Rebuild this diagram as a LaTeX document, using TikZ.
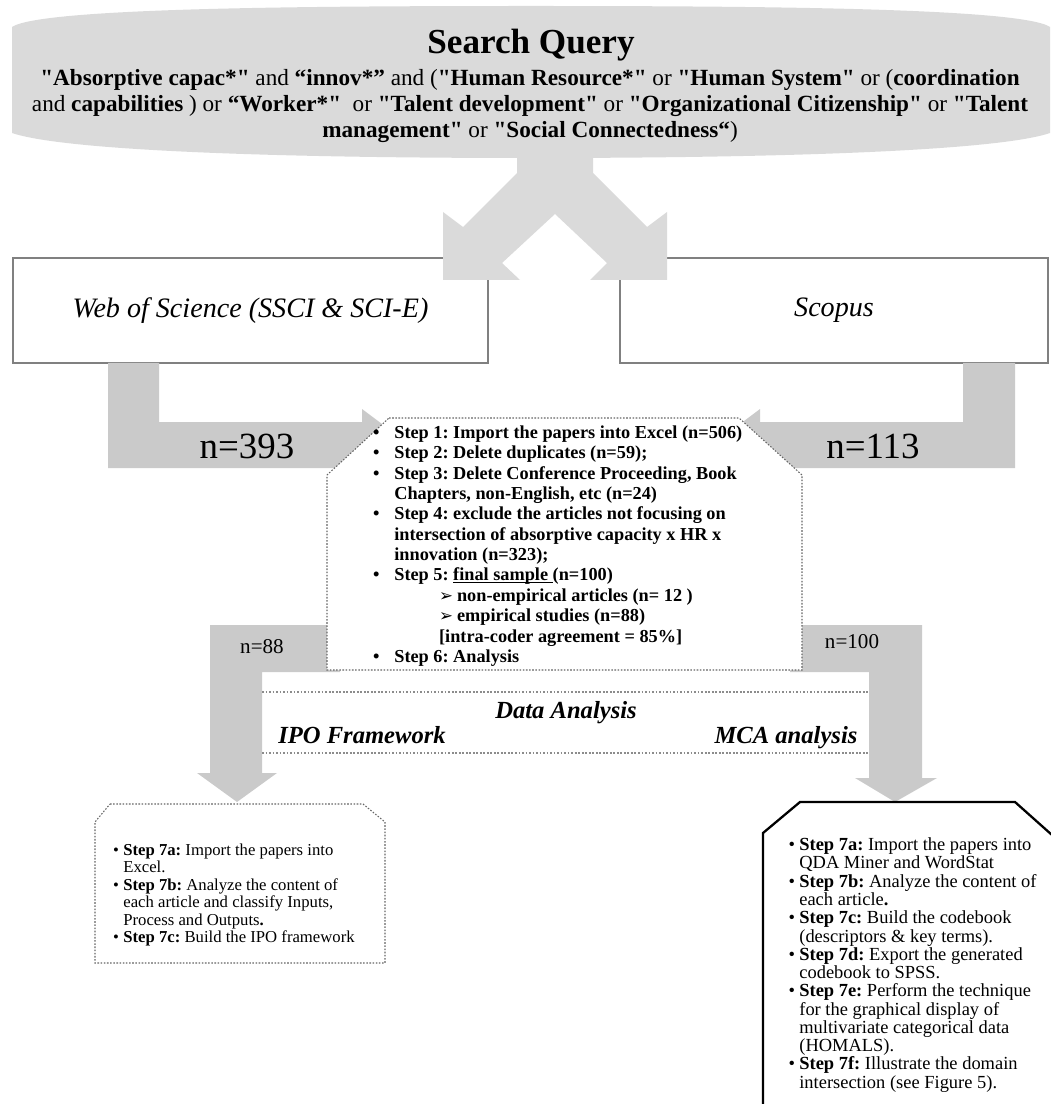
\documentclass[tikz,border=0pt]{standalone}
\usepackage{fontspec}
\setmainfont{Liberation Serif}
\newfontfamily\symfont{DejaVu Sans}
\usetikzlibrary{positioning}
\definecolor{querygray}{RGB}{218,218,218}
\definecolor{arrowgray}{RGB}{202,202,202}
\tikzset{
  fatarrow/.style={fill=arrowgray, draw=none},
  crossarrow/.style={fill=querygray, draw=none},
  dbbox/.style={draw=black!50, line width=0.7pt, fill=white, inner sep=0pt,
    font=\fontsize{16}{19}\selectfont\itshape},
  dotbox/.style={draw=black!60, dash pattern=on 0.9pt off 0.9pt, line width=0.6pt, fill=white},
  bandline/.style={draw=black!45, dash pattern=on 1pt off 1pt, line width=1pt},
  nlabel/.style={inner sep=0pt, font=\fontsize{21}{24}\selectfont},
  smalln/.style={inner sep=0pt, font=\fontsize{12}{14}\selectfont},
  bandtext/.style={inner sep=0pt, anchor=base, font=\fontsize{14}{16}\selectfont\bfseries\itshape},
  steptext/.style={inner sep=0pt, align=left, anchor=west}
}
\newcommand{\q}{\textquotedbl}
\newcommand{\bigbul}{\llap{\textbullet\hspace{8.5pt}}}
\newcommand{\smbul}{\llap{\textbullet\hspace{2.5pt}}}
\newcommand{\subarr}{\hspace*{25.5pt}\makebox[10.2pt][l]{\symfont\fontsize{9.5}{9.5}\selectfont ➢}}
\newcommand{\lineunder}[1]{\setbox0\hbox{#1}\rlap{\rule[-1.3pt]{\wd0}{0.55pt}}\box0}

\begin{document}
\frenchspacing
\begin{tikzpicture}[x=0.02cm, y=-0.02cm]
  \useasboundingbox (0,0) rectangle (1050,1104);

  \fill[querygray] (12,133) -- (12,27) .. controls (40,8) and (300,6) .. (531,6)
    .. controls (762,6) and (1022,8) .. (1050,27) -- (1050,133)
    .. controls (1000,150) and (800,158) .. (531,158)
    .. controls (262,158) and (62,150) .. (12,133) -- cycle;
  \node[inner sep=0pt, font=\fontsize{20}{24}\selectfont\bfseries] (title) at (531,45) {Search Query};
  \node[inner sep=0pt, align=center, font=\fontsize{13.2}{15}\selectfont] (query) at (530,106) {%
    \textbf{\q Absorptive capac*\q} and \textbf{“innov*”} and (\textbf{\q Human Resource*\q} or \textbf{\q Human System\q} or (\textbf{coordination}\\
    and \textbf{capabilities} ) or \textbf{“Worker*\q}\ \ or \textbf{\q Talent development\q} or \textbf{\q Organizational Citizenship\q} or \textbf{\q Talent}\\
    \textbf{management\q} or \textbf{\q Social Connectedness“})};

  \node[dbbox, minimum width=9.5cm, minimum height=2.1cm] (wos) at (250.5,310.5) {Web of Science (SSCI \& SCI-E)};
  \node[dbbox, minimum width=8.56cm, minimum height=2.1cm] (scopus) at (834,310.5) {Scopus};

  \fill[crossarrow] (517,150) -- (517,173) -- (463,227) -- (443,212) -- (443,280) -- (520,280)
    -- (502,263) -- (555,214) -- (607,263) -- (590,280) -- (667,280) -- (667,212)
    -- (647,227) -- (593,173) -- (593,150) -- cycle;

  \fill[fatarrow] (108,363) -- (159,363) -- (159,422) -- (362,422) -- (362,409) -- (410,445)
    -- (362,481) -- (362,468) -- (108,468) -- cycle;
  \fill[fatarrow] (963,363) -- (1015,363) -- (1015,468) -- (760,468) -- (760,481) -- (712,445)
    -- (760,409) -- (760,422) -- (963,422) -- cycle;
  \fill[fatarrow] (340,625) -- (210,625) -- (210,773) -- (197,773) -- (237,802) -- (277,773)
    -- (262,773) -- (262,672) -- (340,672) -- cycle;
  \fill[fatarrow] (790,625) -- (922,625) -- (922,778) -- (937,778) -- (895,802) -- (855,778)
    -- (869,778) -- (869,672) -- (790,672) -- cycle;

  \node[nlabel] (n393) at (247,446) {n=393};
  \node[nlabel] (n113) at (873,446) {n=113};

  \draw[dotbox] (389,418) -- (739,418) -- (802,475) -- (802,670) -- (327,670) -- (327,475) -- cycle;
  \node[steptext, font=\fontsize{10.4}{11.6}\selectfont\bfseries] (steps) at (394,546) {%
    \bigbul Step 1: Import the papers into Excel (n=506)\\
    \bigbul Step 2: Delete duplicates (n=59);\\
    \bigbul Step 3: Delete Conference Proceeding, Book\\
    Chapters, non-English, etc (n=24)\\
    \bigbul Step 4: exclude the articles not focusing on\\
    intersection of absorptive capacity x HR x\\
    innovation (n=323);\\
    \bigbul Step 5: \lineunder{final sample\ }(n=100)\\
    \subarr non-empirical articles (n= 12 )\\
    \subarr empirical studies (n=88)\\
    \hspace*{25.5pt}[intra-coder agreement = 85\%]\\
    \bigbul Step 6: Analysis};

  \node[smalln] (n88) at (262,647) {n=88};
  \node[smalln] (n100) at (852,642) {n=100};

  \draw[bandline] (262,692) -- (869,692);
  \draw[bandline] (262,753) -- (869,753);
  \node[bandtext] (data) at (566,718) {Data Analysis};
  \node[bandtext] (ipo) at (362,743) {IPO Framework};
  \node[bandtext] (mca) at (786,743) {MCA analysis};

  \draw[dotbox] (110,804) -- (363,804) -- (385,822) -- (385,963) -- (95,963) -- (95,822) -- cycle;
  \node[steptext, font=\fontsize{9.5}{10}\selectfont] (ipo steps) at (123,895) {%
    \smbul\textbf{Step 7a:} Import the papers into\\
    Excel.\\
    \smbul\textbf{Step 7b:} Analyze the content of\\
    each article and classify Inputs,\\
    Process and Outputs\textbf{.}\\
    \smbul\textbf{Step 7c:} Build the IPO framework};

  \draw[line width=1.3pt] (763,1106) -- (763,833) -- (800,802) -- (1015,802) -- (1052,835);
  \node[steptext, font=\fontsize{10.5}{10.4}\selectfont] (mca steps) at (799,965) {%
    \smbul\textbf{Step 7a:} Import the papers into\\
    QDA Miner and WordStat\\
    \smbul\textbf{Step 7b:} Analyze the content of\\
    each article\textbf{.}\\
    \smbul\textbf{Step 7c:} Build the codebook\\
    (descriptors \& key terms).\\
    \smbul\textbf{Step 7d:} Export the generated\\
    codebook to SPSS.\\
    \smbul\textbf{Step 7e:} Perform the technique\\
    for the graphical display of\\
    multivariate categorical data\\
    (HOMALS).\\
    \smbul\textbf{Step 7f:} Illustrate the domain\\
    intersection (see Figure 5).};
\end{tikzpicture}
\end{document}
